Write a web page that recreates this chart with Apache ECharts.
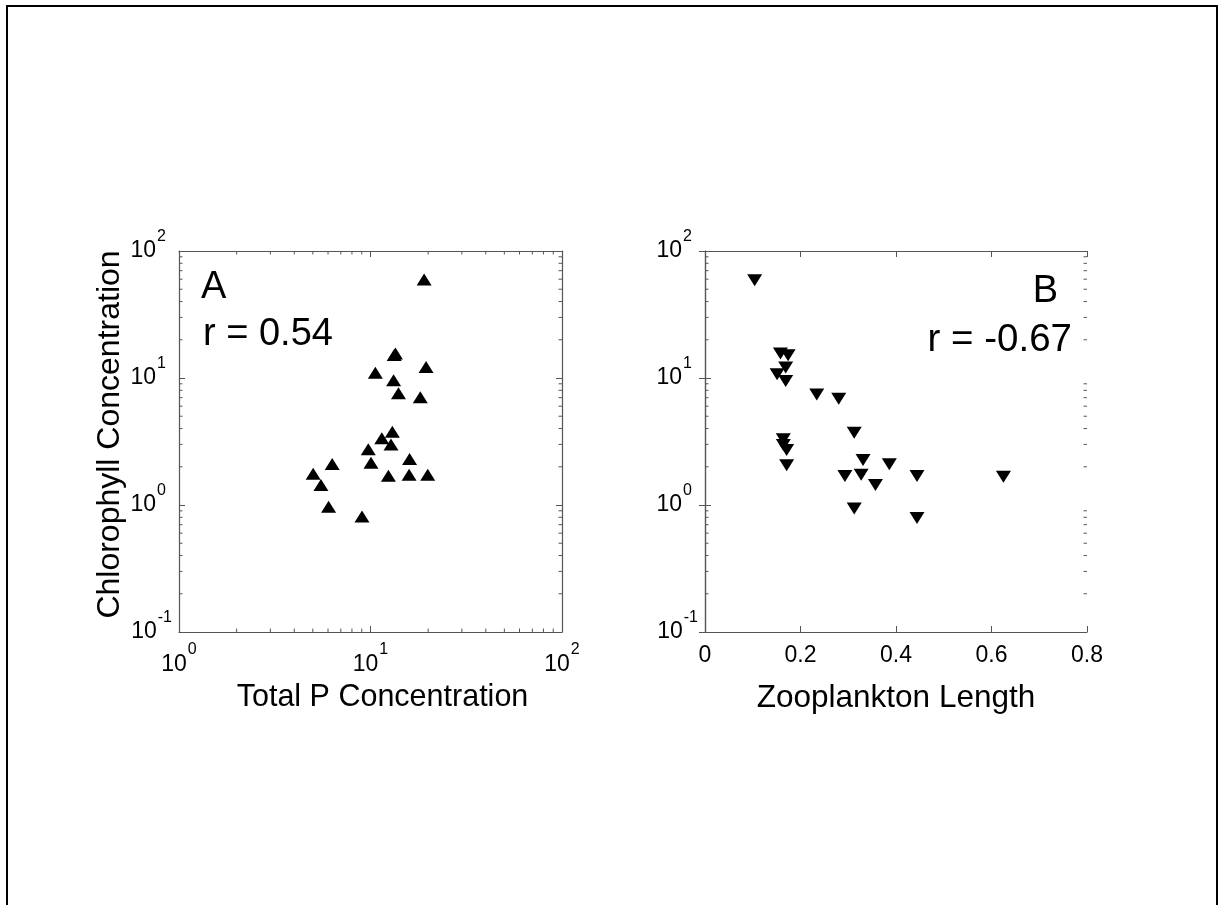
<!DOCTYPE html>
<html>
<head>
<meta charset="utf-8">
<script src="https://cdn.jsdelivr.net/npm/echarts@6/dist/echarts.min.js"></script>
<style>
html,body{margin:0;padding:0;background:#fff;}
#chart{width:1218px;height:905px;}
</style>
</head>
<body>
<div id="chart"></div>
<script>
// ---- Data ----
const totalP = [19.05, 13.5, 13.3, 19.5, 10.6, 13.2, 14.0, 18.2, 13.0, 11.45, 12.8, 9.74, 6.31, 10.06, 16.0, 5.02, 12.4, 15.9, 19.9, 5.51, 6.04, 9.03];
const chlA   = [59.6, 15.6, 15.2, 12.2, 11.0, 9.6, 7.57, 7.04, 3.78, 3.35, 3.0, 2.75, 2.10, 2.15, 2.30, 1.76, 1.70, 1.73, 1.73, 1.44, 0.97, 0.81];
const zooLen = [0.104, 0.158, 0.174, 0.169, 0.151, 0.169, 0.234, 0.280, 0.3125, 0.164, 0.164, 0.171, 0.331, 0.386, 0.171, 0.293, 0.327, 0.444, 0.625, 0.357, 0.3125, 0.444];
const chlB   = [58.9, 15.6, 15.1, 12.1, 10.7, 9.45, 7.43, 6.86, 3.71, 3.29, 2.97, 2.71, 2.26, 2.09, 2.06, 1.69, 1.73, 1.69, 1.67, 1.44, 0.94, 0.79];
const minorTicksChl = [0.2,0.3,0.4,0.5,0.6,0.7,0.8,0.9, 2,3,4,5,6,7,8,9, 20,30,40,50,60,70,80,90];
const minorTicksTP  = [2,3,4,5,6,7,8,9, 20,30,40,50,60,70,80,90];
const labelA = 'A', rA = 'r = 0.54';
const labelB = 'B', rB = 'r = -0.67';
const xNameA = 'Total P Concentration';
const xNameB = 'Zooplankton Length';
const yName = 'Chlorophyll Concentration';

const FONT = '"Liberation Sans", Arial, sans-serif';
const AXC = '#555';

// y labels: keep the "10" base at a fixed place, superscript hangs to the right
function powLabelY(v){
  const e = Math.round(Math.log10(v));
  return e < 0 ? '{b|10}{sn|' + e + '}' : '{b|10}{s|' + e + '}';
}
function powLabelX(v){
  const e = Math.round(Math.log10(v));
  return '{b|10}{sx|' + e + '}';
}
const supBase = {fontSize: 16, fontFamily: FONT, color: '#000', verticalAlign: 'top'};
const powRich = {
  b: {fontSize: 23, fontFamily: FONT, color: '#000', padding: [11, 1, 11, 0]},
  s: Object.assign({padding: [0, 7, 0, 0]}, supBase),
  sn: Object.assign({padding: [0, 1, 0, 0]}, supBase),
  sx: Object.assign({padding: [0, 0, 0, 0]}, supBase)
};

function logAxisBase(extra){
  return Object.assign({
    type: 'log', logBase: 10,
    axisLine: {show: true, lineStyle: {color: AXC, width: 1.2}},
    axisTick: {show: true, inside: true, length: 6, lineStyle: {color: AXC}},
    splitLine: {show: false},
    minorTick: {show: false}
  }, extra);
}

const pairsA = totalP.map((x, i) => [x, chlA[i]]);
const pairsB = zooLen.map((x, i) => [x, chlB[i]]);

const yMinorA = minorTicksChl.map(v => [1, v, 0]);
const xMinorA = minorTicksTP.map(v => [v, 0.1, 1]);
const yMinorB = minorTicksChl.map(v => [0, v, 0]);

function minorRender(params, api){
  const cs = params.coordSys;
  const kind = api.value(2);
  const p = api.coord([api.value(0), api.value(1)]);
  const L = 3.5;
  const style = {stroke: AXC, lineWidth: 1};
  if (kind === 0){
    return {type: 'group', children: [
      {type: 'line', shape: {x1: cs.x, y1: p[1], x2: cs.x + L, y2: p[1]}, style},
      {type: 'line', shape: {x1: cs.x + cs.width - L, y1: p[1], x2: cs.x + cs.width, y2: p[1]}, style}
    ]};
  }
  return {type: 'group', children: [
    {type: 'line', shape: {x1: p[0], y1: cs.y + cs.height, x2: p[0], y2: cs.y + cs.height - L}, style},
    {type: 'line', shape: {x1: p[0], y1: cs.y, x2: p[0], y2: cs.y + L}, style}
  ]};
}

const chart = echarts.init(document.getElementById('chart'), null, {renderer: 'canvas'});
const option = {
  backgroundColor: '#fff',
  animation: false,
  grid: [
    {left: 179, top: 251, width: 383, height: 381},
    {left: 705, top: 251, width: 382, height: 381}
  ],
  xAxis: [
    logAxisBase({gridIndex: 0, min: 1, max: 100, position: 'bottom',
      name: xNameA, nameLocation: 'middle', nameGap: 50,
      nameTextStyle: {fontSize: 30.5, fontFamily: FONT, color: '#000', padding: [0, 0, 0, 24]},
      axisLabel: {formatter: powLabelX, rich: powRich, margin: 10}}),
    logAxisBase({gridIndex: 0, min: 1, max: 100, position: 'top', axisLabel: {show: false}}),
    {type: 'value', gridIndex: 1, min: 0, max: 0.8, interval: 0.2, position: 'bottom',
      name: xNameB, nameLocation: 'middle', nameGap: 50,
      nameTextStyle: {fontSize: 31.5, fontFamily: FONT, color: '#000'},
      axisLine: {show: true, lineStyle: {color: AXC, width: 1.2}},
      axisTick: {show: true, inside: true, length: 6, lineStyle: {color: AXC}},
      splitLine: {show: false},
      axisLabel: {fontSize: 23, fontFamily: FONT, color: '#000', margin: 12,
        formatter: v => (Math.round(v * 10) / 10).toString()}},
    {type: 'value', gridIndex: 1, min: 0, max: 0.8, interval: 0.2, position: 'top',
      axisLine: {show: true, lineStyle: {color: AXC, width: 1.2}},
      axisTick: {show: true, inside: true, length: 6, lineStyle: {color: AXC}},
      splitLine: {show: false}, axisLabel: {show: false}}
  ],
  yAxis: [
    logAxisBase({gridIndex: 0, min: 0.1, max: 100, position: 'left',
      name: yName, nameLocation: 'middle', nameGap: 51, nameRotate: 90,
      nameTextStyle: {fontSize: 32, fontFamily: FONT, color: '#000', padding: [0, 0, 0, 14]},
      axisLabel: {formatter: powLabelY, rich: powRich, margin: 6}}),
    logAxisBase({gridIndex: 0, min: 0.1, max: 100, position: 'right', axisLabel: {show: false}}),
    logAxisBase({gridIndex: 1, min: 0.1, max: 100, position: 'left',
      axisLabel: {formatter: powLabelY, rich: powRich, margin: 6}}),
    logAxisBase({gridIndex: 1, min: 0.1, max: 100, position: 'right', axisLabel: {show: false}})
  ],
  series: [
    {type: 'scatter', xAxisIndex: 0, yAxisIndex: 0, data: pairsA,
      symbol: 'triangle', symbolSize: [15, 12], itemStyle: {color: '#000', opacity: 1}},
    {type: 'scatter', xAxisIndex: 2, yAxisIndex: 2, data: pairsB,
      symbol: 'triangle', symbolRotate: 180, symbolSize: [15, 12], itemStyle: {color: '#000', opacity: 1}},
    {type: 'custom', xAxisIndex: 0, yAxisIndex: 0, data: yMinorA.concat(xMinorA), renderItem: minorRender, clip: false, silent: true},
    {type: 'custom', xAxisIndex: 2, yAxisIndex: 2, data: yMinorB, renderItem: minorRender, clip: false, silent: true}
  ],
  graphic: [
    {type: 'rect', shape: {x: 7, y: 6, width: 1210, height: 920}, style: {fill: 'none', stroke: '#000', lineWidth: 2}, silent: true},
    {type: 'text', left: 201, top: 269, style: {text: labelA, font: '38px ' + FONT, fill: '#000'}},
    {type: 'text', left: 203, top: 316, style: {text: rA, font: '38px ' + FONT, fill: '#000'}},
    {type: 'text', right: 1218 - 1058, top: 273, style: {text: labelB, font: '38px ' + FONT, fill: '#000', textAlign: 'right'}},
    {type: 'text', right: 1218 - 1072, top: 321, style: {text: rB, font: '38.5px ' + FONT, fill: '#000', textAlign: 'right'}}
  ]
};
chart.setOption(option);
</script>
</body>
</html>
